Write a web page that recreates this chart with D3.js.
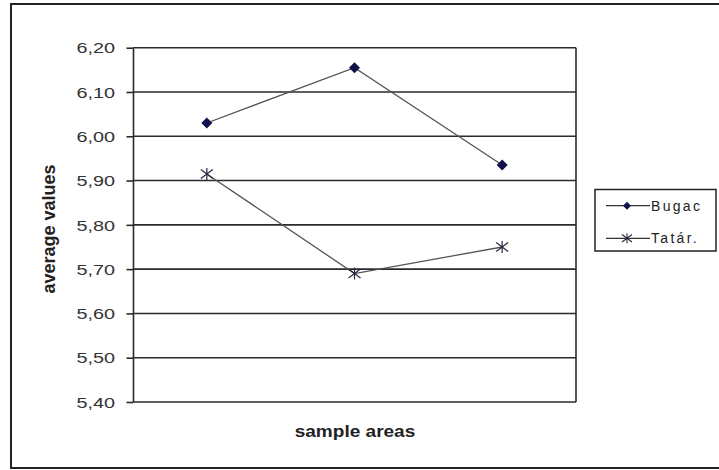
<!DOCTYPE html>
<html>
<head>
<meta charset="utf-8">
<script src="https://cdn.jsdelivr.net/npm/d3@7"></script>
<style>
  html, body { margin: 0; padding: 0; background: #fff; }
  svg { display: block; font-family: "Liberation Sans", Arial, sans-serif; }
</style>
</head>
<body>
<svg id="chart" width="719" height="470"></svg>
<script>
// Sample areas (categories along the x axis, not labelled individually)
const categories = ["1", "2", "3"];
// Average values per sample area
const bugac = [6.03, 6.155, 5.935];
const tatar = [5.915, 5.69, 5.75];
const seriesNames = ["Bugac", "Tatár."];
// Y axis tick values
const yTicks = [5.4, 5.5, 5.6, 5.7, 5.8, 5.9, 6.0, 6.1, 6.2];

const svg = d3.select("#chart");

// Outer chart frame (right edge runs off the canvas)
svg.append("path")
  .attr("d", "M740,4 L11,4 L11,468 L740,468")
  .attr("fill", "none").attr("stroke", "#222").attr("stroke-width", 2);

const plot = { left: 133, right: 576, top: 47.7, bottom: 402 };

const y = d3.scaleLinear().domain([5.4, 6.2]).range([plot.bottom, plot.top]);
const x = d3.scalePoint().domain(categories).range([plot.left, plot.right]).padding(0.5);

const locale = d3.formatLocale({ decimal: ",", thousands: " ", grouping: [3], currency: ["", ""] });
const fmt = locale.format(".2f");

// Horizontal gridlines
svg.append("g")
  .selectAll("line")
  .data(yTicks)
  .join("line")
  .attr("x1", plot.left).attr("x2", plot.right)
  .attr("y1", d => y(d)).attr("y2", d => y(d))
  .attr("stroke", "#2a2a2a").attr("stroke-width", 1.6);

// Right border of the plot area
svg.append("line")
  .attr("x1", plot.right).attr("x2", plot.right)
  .attr("y1", plot.top).attr("y2", plot.bottom)
  .attr("stroke", "#2a2a2a").attr("stroke-width", 1.6);

// Y axis
const yAxis = svg.append("g")
  .attr("transform", `translate(${plot.left},0)`)
  .call(d3.axisLeft(y).tickValues(yTicks).tickFormat(fmt).tickSize(6.5).tickSizeOuter(0));
yAxis.select(".domain").attr("stroke", "#2a2a2a").attr("stroke-width", 1.6);
yAxis.selectAll(".tick line").attr("stroke", "#2a2a2a").attr("stroke-width", 1.6);
yAxis.selectAll(".tick text")
  .attr("x", 0).attr("dy", null)
  .attr("dominant-baseline", "central")
  .attr("transform", "translate(-18,0) scale(1.28,1)")
  .attr("font-size", 15.5)
  .attr("fill", "#333");

// Series lines
const line = d3.line().x((d, i) => x(categories[i])).y(d => y(d));
[bugac, tatar].forEach(vals => {
  svg.append("path")
    .attr("d", line(vals))
    .attr("fill", "none")
    .attr("stroke", "#555")
    .attr("stroke-width", 1.3);
});

// Marker shapes
const diamond = r => `M0,${-r}L${r},0L0,${r}L${-r},0Z`;
const star = r => `M0,${-r}L0,${r}M${-r},${-r * 0.75}L${r},${r * 0.75}M${-r},${r * 0.75}L${r},${-r * 0.75}`;

svg.append("g").selectAll("path")
  .data(bugac)
  .join("path")
  .attr("transform", (d, i) => `translate(${x(categories[i])},${y(d)})`)
  .attr("d", diamond(5.5))
  .attr("fill", "#10104a");

svg.append("g").selectAll("path")
  .data(tatar)
  .join("path")
  .attr("transform", (d, i) => `translate(${x(categories[i])},${y(d)})`)
  .attr("d", star(6))
  .attr("fill", "none")
  .attr("stroke", "#2a2a44")
  .attr("stroke-width", 1.2);

// Axis titles
svg.append("text")
  .attr("x", 355).attr("y", 437)
  .attr("text-anchor", "middle")
  .attr("font-size", 17)
  .attr("font-weight", "bold")
  .attr("fill", "#222")
  .attr("transform", "translate(355,0) scale(1.12,1) translate(-355,0)")
  .text("sample areas");

svg.append("text")
  .attr("transform", "translate(55,229) rotate(-90)")
  .attr("text-anchor", "middle")
  .attr("font-size", 18)
  .attr("font-weight", "bold")
  .attr("fill", "#222")
  .text("average values");

// Legend
const legend = svg.append("g");
legend.append("rect")
  .attr("x", 595).attr("y", 189.5).attr("width", 121).attr("height", 61.5)
  .attr("fill", "#fff").attr("stroke", "#222").attr("stroke-width", 1.5);

const rows = [
  { name: seriesNames[0], cy: 205.7, shape: "diamond" },
  { name: seriesNames[1], cy: 238.3, shape: "star" }
];
rows.forEach(r => {
  legend.append("line")
    .attr("x1", 606).attr("x2", 650).attr("y1", r.cy).attr("y2", r.cy)
    .attr("stroke", "#333").attr("stroke-width", 1.3);
  if (r.shape === "diamond") {
    legend.append("path").attr("transform", `translate(627,${r.cy})`)
      .attr("d", diamond(4)).attr("fill", "#10104a");
  } else {
    legend.append("path").attr("transform", `translate(627,${r.cy})`)
      .attr("d", star(5)).attr("fill", "none").attr("stroke", "#2a2a44").attr("stroke-width", 1.1);
  }
  legend.append("text")
    .attr("x", 651).attr("y", r.cy)
    .attr("dominant-baseline", "central")
    .attr("font-size", 14)
    .attr("letter-spacing", 2.3)
    .attr("fill", "#222")
    .text(r.name);
});
</script>
</body>
</html>
